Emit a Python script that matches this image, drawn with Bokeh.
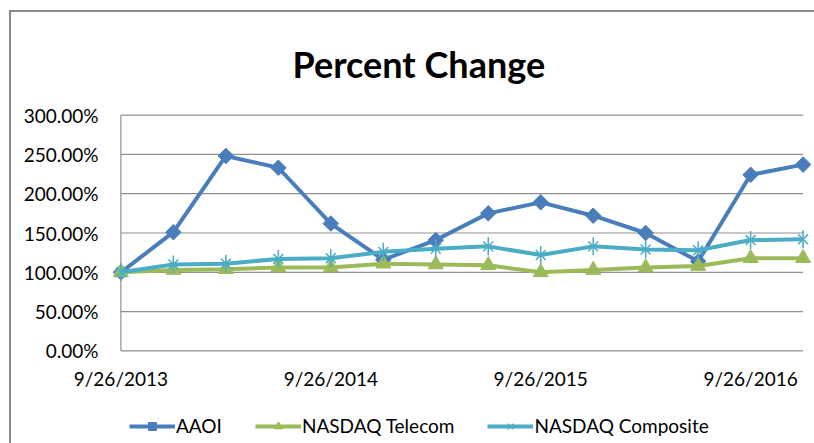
import math
from bokeh.plotting import figure
from bokeh.layouts import column
from bokeh.models import (Range1d, FixedTicker, NumeralTickFormatter, Legend, LegendItem,
                          ColumnDataSource)
from bokeh.embed import file_html
from bokeh.resources import INLINE

# ---- data ----
quarters = list(range(14))
aaoi = [1.00, 1.51, 2.48, 2.33, 1.62, 1.16, 1.41, 1.75, 1.89, 1.72, 1.50, 1.14, 2.24, 2.37]
telecom = [1.00, 1.03, 1.04, 1.06, 1.06, 1.11, 1.10, 1.09, 1.00, 1.03, 1.06, 1.08, 1.18, 1.18]
composite = [1.00, 1.10, 1.11, 1.17, 1.18, 1.26, 1.30, 1.33, 1.22, 1.33, 1.29, 1.28, 1.41, 1.42]
tick_positions = [0, 4, 8, 12]
tick_labels = ["9/26/2013", "9/26/2014", "9/26/2015", "9/26/2016"]
y_ticks = [0.0, 0.5, 1.0, 1.5, 2.0, 2.5, 3.0]
series_names = ["AAOI", "NASDAQ Telecom", "NASDAQ Composite"]

C_AAOI = "#4a7ebb"
C_TEL = "#9bbb59"
C_COMP = "#4bacc6"
GRID = "#8f8f8f"
FONT = "Lato"

p = figure(frame_width=699, frame_height=239, output_backend="svg", toolbar_location=None,
           x_range=Range1d(-0.16, 13.16), y_range=Range1d(-0.02, 3.02),
           min_border_left=101, min_border_right=3, min_border_top=75, min_border_bottom=50,
           title="Percent Change")
p.outline_line_color = None
p.background_fill_color = "white"
p.border_fill_color = "white"

p.title.text_font = FONT
p.title.text_font_size = "36px"
p.title.text_font_style = "bold"
p.title.text_color = "#000000"
p.title.align = "left"
p.title.offset = 180
p.title.standoff = 55

# grid & axis lines drawn within the data extent
p.xgrid.visible = False
p.ygrid.visible = False
p.segment(x0=[quarters[0]] * len(y_ticks), x1=[quarters[-1]] * len(y_ticks),
          y0=y_ticks, y1=y_ticks, line_color=GRID, line_width=1.2)
p.segment(x0=[quarters[0]], x1=[quarters[0]], y0=[y_ticks[0]], y1=[y_ticks[-1]],
          line_color=GRID, line_width=1.2)

# axes
p.yaxis.ticker = FixedTicker(ticks=y_ticks)
p.yaxis.formatter = NumeralTickFormatter(format="0.00%")
p.xaxis.ticker = FixedTicker(ticks=tick_positions)
p.xaxis.major_label_overrides = {k: v for k, v in zip(tick_positions, tick_labels)}
for ax in (p.xaxis, p.yaxis):
    ax.axis_line_color = None
    ax.major_tick_line_color = None
    ax.minor_tick_line_color = None
    ax.major_tick_out = 0
    ax.major_label_text_font = FONT
    ax.major_label_text_font_size = "19px"
    ax.major_label_text_color = "#000000"
p.yaxis.major_label_standoff = 14
p.xaxis.major_label_standoff = 14


def draw_series(fig, src, xcol, cols, k=1.0):
    a, t, c = cols
    r1 = fig.line(xcol, a, source=src, line_color=C_AAOI, line_width=4)
    r1m = fig.scatter(xcol, a, source=src, marker="square", angle=math.pi / 4, size=11 * k,
                      fill_color=C_AAOI, line_color=C_AAOI)
    r2 = fig.line(xcol, t, source=src, line_color=C_TEL, line_width=4)
    r2m = fig.scatter(xcol, t, source=src, marker="triangle", size=15 * k, fill_color=C_TEL,
                      line_color=C_TEL)
    r3 = fig.line(xcol, c, source=src, line_color=C_COMP, line_width=4)
    r3a = fig.scatter(xcol, c, source=src, marker="x", size=14 * k, line_color=C_COMP,
                      line_width=1.5)
    r3b = fig.scatter(xcol, c, source=src, marker="dash", angle=math.pi / 2, size=18 * k,
                      line_color=C_COMP, line_width=1.5)
    return [[r1, r1m], [r2, r2m], [r3, r3a, r3b]]


src = ColumnDataSource(dict(x=quarters, aaoi=aaoi, tel=telecom, comp=composite))
draw_series(p, src, "x", ("aaoi", "tel", "comp"))

# ---- legend strip (separate figure so the legend is not clipped) ----
# same data source, but its ranges keep every mark out of view: only the legend shows
lg = figure(frame_width=803, frame_height=53, output_backend="svg", toolbar_location=None,
            x_axis_type=None, y_axis_type=None, min_border=0,
            x_range=Range1d(100, 101), y_range=Range1d(100, 101))
lg.outline_line_color = None
lg.xgrid.visible = False
lg.ygrid.visible = False
groups = draw_series(lg, src, "x", ("aaoi", "tel", "comp"), k=0.75)

legend = Legend(items=[LegendItem(label=n, renderers=g) for n, g in zip(series_names, groups)],
                orientation="horizontal", location=(118, 18))
legend.label_text_font = FONT
legend.label_text_font_size = "19px"
legend.label_text_color = "#000000"
legend.glyph_width = 46
legend.glyph_height = 20
legend.label_standoff = 1
legend.spacing = 33
legend.padding = 0
legend.margin = 0
legend.border_line_color = None
legend.background_fill_alpha = 0
lg.add_layout(legend, "center")

layout = column(p, lg, spacing=0)
layout.styles = {"border-left": "2px solid #8a8a8a", "border-top": "2px solid #8a8a8a",
                 "margin-left": "9px", "margin-top": "10px"}

open("out.html", "w").write(file_html(layout, INLINE))
